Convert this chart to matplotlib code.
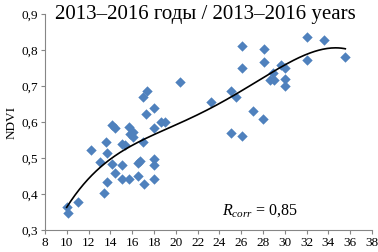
import numpy as np
import matplotlib.pyplot as plt

plt.rcParams['font.family'] = ['Liberation Serif', 'DejaVu Serif']
plt.rcParams['mathtext.fontset'] = 'custom'
plt.rcParams['mathtext.rm'] = 'Liberation Serif'
plt.rcParams['mathtext.it'] = 'Liberation Serif:italic'

# values
x_vals = [10.02, 10.07, 11.03, 12.24, 13.0, 13.45, 13.6, 13.66, 13.71, 14.16,
          14.46, 14.16, 14.46, 15.02, 15.38, 15.04, 15.04, 15.68, 15.68, 15.78,
          16.03, 16.08, 16.99, 16.54, 16.69, 16.49, 17.09, 18.0, 18.0, 18.0,
          18.0, 18.61, 19.01, 17.03, 17.39, 17.29, 18.0, 20.39, 23.21, 25.07,
          25.48, 25.07, 26.08, 26.06, 28.05, 26.06, 28.05, 27.04, 28.0, 29.62,
          30.02, 28.96, 28.61, 29.01, 30.02, 30.02, 32.04, 33.56, 32.04, 35.5]
ndvi = [0.363, 0.346, 0.378, 0.521, 0.488, 0.402, 0.544, 0.513, 0.432, 0.592,
        0.584, 0.482, 0.458, 0.538, 0.537, 0.481, 0.441, 0.441, 0.586, 0.566,
        0.572, 0.558, 0.545, 0.485, 0.492, 0.450, 0.427, 0.497, 0.480, 0.441,
        0.583, 0.600, 0.599, 0.670, 0.687, 0.622, 0.638, 0.710, 0.655, 0.686,
        0.670, 0.569, 0.561, 0.812, 0.803, 0.749, 0.766, 0.631, 0.608, 0.758,
        0.749, 0.735, 0.717, 0.717, 0.719, 0.701, 0.835, 0.828, 0.772, 0.780]

# points on the polynomial trend line as drawn in the reference
trend_x = [9.99, 12.44, 13.97, 17.03, 20.09, 23.15, 25.6, 27.74, 30.19, 32.33, 34.17, 35.55]
trend_y = [0.365, 0.448, 0.504, 0.550, 0.592, 0.642, 0.675, 0.717, 0.763, 0.793, 0.805, 0.803]

x_ticks = list(range(8, 39, 2))
y_ticks = [0.3, 0.4, 0.5, 0.6, 0.7, 0.8, 0.9]
y_labels = ['0,3', '0,4', '0,5', '0,6', '0,7', '0,8', '0,9']

fig = plt.figure(figsize=(3.78, 2.52), dpi=100)
ax = fig.add_axes([45/378, 1 - 230/252, 327/378, 216/252])

ax.scatter(x_vals, ndvi, marker='D', s=28, color='#4F81BD', linewidths=0, zorder=3)

# polynomial trend line (Excel style)
coef = np.polyfit(trend_x, trend_y, 4)
xs = np.linspace(trend_x[0], trend_x[-1], 200)
ax.plot(xs, np.polyval(coef, xs), color='black', lw=1.2, zorder=4)

ax.set_xlim(8, 38)
ax.set_ylim(0.3, 0.9)
ax.set_xticks(x_ticks)
ax.set_yticks(y_ticks)
ax.set_yticklabels(y_labels)
ax.tick_params(labelsize=9.5, length=3, width=0.8, color='#868686', pad=2)
for s in ['top', 'right']:
    ax.spines[s].set_visible(False)
for s in ['left', 'bottom']:
    ax.spines[s].set_color('#868686')
    ax.spines[s].set_linewidth(0.8)
ax.set_ylabel('NDVI', fontsize=9.5, labelpad=3)

ax.text(24.25, 0.353, r'$R_{corr}$ = 0,85', fontsize=11.5, ha='left', va='center')
fig.text(205/378, 1 - 14/252, '2013–2016 годы / 2013–2016 years',
         fontsize=15, ha='center', va='center')

fig.savefig('out.png', dpi=100)
